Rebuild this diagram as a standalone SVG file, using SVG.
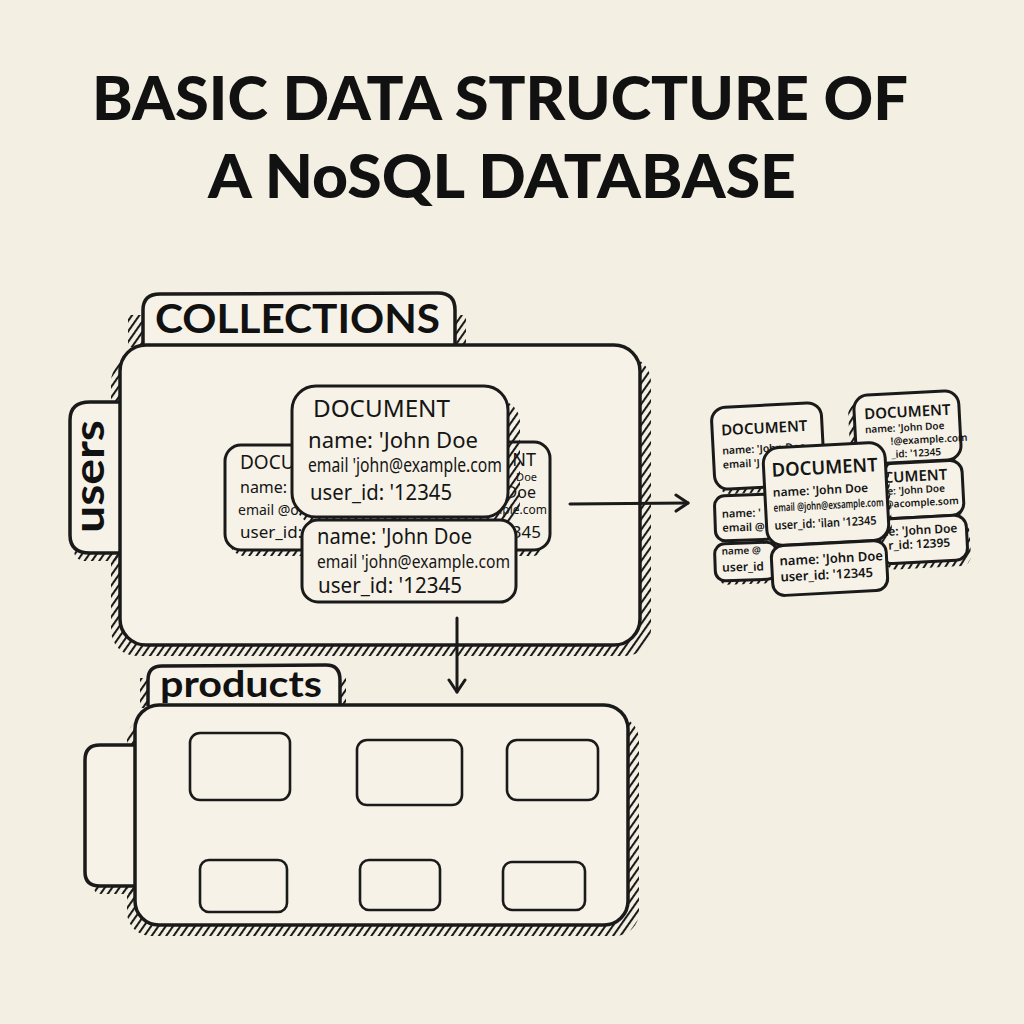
<svg xmlns="http://www.w3.org/2000/svg" width="1024" height="1024" viewBox="0 0 1024 1024">
<defs>
<pattern id="hatch" width="6" height="6" patternUnits="userSpaceOnUse" patternTransform="rotate(35)">
<line x1="1" y1="0" x2="1" y2="6" stroke="#1a1a1a" stroke-width="2.1"/>
</pattern>
<marker id="chev" viewBox="0 0 20 20" refX="17" refY="10" markerWidth="20" markerHeight="20" markerUnits="userSpaceOnUse" orient="auto">
<path d="M5,2 L17,10 L5,18" fill="none" stroke="#1a1a1a" stroke-width="3" stroke-linecap="round" stroke-linejoin="round"/>
</marker>
</defs>
<style>
.bg{fill:#f3efe2}
.box{fill:#f6f2e7;stroke:#1a1a1a;stroke-width:3.5;stroke-linejoin:round}
.doc{fill:#f6f2e7;stroke:#1a1a1a;stroke-width:3}
.inner{fill:none;stroke:#1a1a1a;stroke-width:2.6}
.sh{fill:url(#hatch)}
.title{font-family:Lato,"Liberation Sans",sans-serif;font-weight:900;fill:#111}
.lab{font-family:Lato,"Liberation Sans",sans-serif;font-weight:700;fill:#111}
.t{font-family:"Noto Sans","DejaVu Sans",sans-serif;fill:#151515}
.tb{font-family:"Noto Sans","DejaVu Sans",sans-serif;fill:#151515;font-weight:600}
.con{fill:none;stroke:#1a1a1a;stroke-width:3;stroke-linecap:round}
</style>
<rect class="bg" x="0" y="0" width="1024" height="1024"/>

<g id="title">
<text class="title" x="92" y="120" font-size="60" textLength="816" lengthAdjust="spacingAndGlyphs">BASIC DATA STRUCTURE OF</text>
<text class="title" x="208" y="198" font-size="60" textLength="588" lengthAdjust="spacingAndGlyphs">A NoSQL DATABASE</text>
</g>

<g id="collections-tab">
<rect class="sh" x="128" y="315" width="338" height="32"/>
<path class="box" d="M143,345 L143,310 Q143,294 160,294 L438,293 Q455,293 455,310 L455,345"/>
<text class="lab" x="155" y="333" font-size="40" textLength="285" lengthAdjust="spacingAndGlyphs">COLLECTIONS</text>
</g>

<g id="users-collection">
<rect class="sh" x="111" y="356" width="540" height="300" rx="26"/>
<rect class="sh" x="74" y="412" width="50" height="149" rx="10"/>
<path class="box" d="M123,402 L90,402 Q70,402 70,420 L70,535 Q70,553 90,553 L123,553"/>
<rect class="box" x="120" y="345" width="520" height="300" rx="26"/>
<text class="lab" transform="translate(104,533) rotate(-90)" font-size="42" textLength="113" lengthAdjust="spacingAndGlyphs">users</text>
</g>

<g id="doc-back-left">
<rect class="sh" x="229" y="452" width="170" height="104" rx="16"/>
<rect class="doc" x="225" y="445" width="180" height="105" rx="16"/>
<text class="t" x="240" y="469" font-size="19">DOCU</text>
<text class="t" x="240" y="493" font-size="16">name: '</text>
<text class="t" x="238" y="515" font-size="14">email @o</text>
<text class="t" x="240" y="538" font-size="17">user_id:</text>
</g>

<g id="doc-back-right">
<rect class="sh" x="400" y="450" width="148" height="106" rx="16"/>
<rect class="doc" x="395" y="442" width="155" height="108" rx="16"/>
<text class="t" x="536" y="466" font-size="18" text-anchor="end">NT</text>
<text class="t" x="537" y="481" font-size="11" text-anchor="end">Doe</text>
<text class="t" x="536" y="498" font-size="16" text-anchor="end">Doe</text>
<text class="t" x="547" y="514" font-size="12" text-anchor="end">ample.com</text>
<text class="t" x="541" y="538" font-size="17" text-anchor="end">345</text>
</g>

<g id="doc-front">
<rect class="sh" x="296" y="400" width="224" height="125" rx="22"/>
<rect class="doc" x="292" y="386" width="216" height="131" rx="24"/>
<text class="t" x="313" y="417" font-size="24" textLength="137" lengthAdjust="spacingAndGlyphs">DOCUMENT</text>
<text class="t" x="308" y="448" font-size="22" textLength="170" lengthAdjust="spacingAndGlyphs">name: 'John Doe</text>
<text class="t" x="308" y="472" font-size="19" textLength="194" lengthAdjust="spacingAndGlyphs">email 'john@example.com</text>
<text class="t" x="310" y="500" font-size="22" textLength="142" lengthAdjust="spacingAndGlyphs">user_id: '12345</text>
</g>

<g id="doc-lower">
<rect class="doc" x="302" y="520" width="214" height="82" rx="16"/>
<text class="t" x="317" y="544" font-size="21" textLength="155" lengthAdjust="spacingAndGlyphs">name: 'John Doe</text>
<text class="t" x="317" y="568" font-size="18" textLength="193" lengthAdjust="spacingAndGlyphs">email 'john@example.com</text>
<text class="t" x="318" y="593" font-size="21" textLength="144" lengthAdjust="spacingAndGlyphs">user_id: '12345</text>
</g>

<g id="products-tab">
<rect class="sh" x="140" y="678" width="206" height="30"/>
<path class="box" d="M148,706 L148,680 Q148,666 162,666 L326,665 Q340,665 340,680 L340,706"/>
<text class="lab" x="160" y="697" font-size="36" textLength="162" lengthAdjust="spacingAndGlyphs">products</text>
</g>

<g id="products-collection">
<rect class="sh" x="127" y="716" width="512" height="220" rx="24"/>
<rect class="sh" x="93" y="758" width="44" height="136" rx="8"/>
<path class="box" d="M137,745 L100,745 Q85,745 85,760 L85,872 Q85,886 100,886 L137,886"/>
<rect class="box" x="135" y="705" width="493" height="220" rx="24"/>
<rect class="inner" x="190" y="733" width="100" height="67" rx="10"/>
<rect class="inner" x="357" y="740" width="105" height="65" rx="10"/>
<rect class="inner" x="507" y="740" width="91" height="60" rx="10"/>
<rect class="inner" x="200" y="860" width="87" height="52" rx="9"/>
<rect class="inner" x="360" y="860" width="80" height="50" rx="9"/>
<rect class="inner" x="503" y="862" width="82" height="48" rx="9"/>
</g>

<g id="document-cluster">
<g id="doc-a" transform="rotate(-3 768 446)">
<rect class="sh" x="716" y="420" width="106" height="72" rx="12"/>
<rect class="doc" x="713" y="405" width="110" height="82" rx="14"/>
<text class="tb" x="722" y="433" font-size="15">DOCUMENT</text>
<text class="tb" x="722" y="452" font-size="10.5">name: 'John Doe</text>
<text class="tb" x="722" y="466" font-size="10.5">email 'J</text>
</g>
<g id="doc-b" transform="rotate(-3 907 428)">
<rect class="sh" x="849" y="400" width="108" height="68" rx="12"/>
<rect class="doc" x="855" y="393" width="105" height="69" rx="14"/>
<text class="tb" x="865" y="417" font-size="15">DOCUMENT</text>
<text class="tb" x="865" y="431" font-size="10">name: 'John Doe</text>
<text class="tb" x="890" y="444" font-size="10">!@example.com</text>
<text class="tb" x="890" y="457" font-size="10">_id: '12345</text>
</g>
<g id="doc-f" transform="rotate(-2 746 518)">
<rect class="doc" x="715" y="495" width="62" height="45" rx="10"/>
<text class="tb" x="722" y="517" font-size="11">name: '</text>
<text class="tb" x="722" y="531" font-size="11">email @</text>
</g>
<g id="doc-g" transform="rotate(-2 746 562)">
<rect class="sh" x="718" y="556" width="56" height="28" rx="8"/>
<rect class="doc" x="715" y="543" width="62" height="37" rx="10"/>
<text class="tb" x="722" y="554" font-size="10">name @</text>
<text class="tb" x="722" y="571" font-size="12">user_id</text>
</g>
<g id="doc-d" transform="rotate(-3 921 490)">
<rect class="sh" x="878" y="468" width="84" height="54" rx="10"/>
<rect class="doc" x="880" y="462" width="83" height="55" rx="12"/>
<text class="tb" x="948" y="481" font-size="15" text-anchor="end">OCUMENT</text>
<text class="tb" x="945" y="493" font-size="10" text-anchor="end">e: 'John Doe</text>
<text class="tb" x="958" y="506" font-size="10" text-anchor="end">il @acomple.som</text>
</g>
<g id="doc-e" transform="rotate(-3 923 540)">
<rect class="sh" x="884" y="524" width="86" height="44" rx="10"/>
<rect class="doc" x="880" y="517" width="87" height="45" rx="12"/>
<text class="tb" x="958" y="534" font-size="12" text-anchor="end">me: 'John Doe</text>
<text class="tb" x="950" y="548" font-size="12" text-anchor="end">r_id: 12395</text>
</g>
<g id="doc-c" transform="rotate(-3 826 494)">
<rect class="sh" x="768" y="455" width="122" height="92" rx="14"/>
<rect class="doc" x="765" y="445" width="122" height="98" rx="16"/>
<text class="tb" x="773" y="474" font-size="19" textLength="106" lengthAdjust="spacingAndGlyphs">DOCUMENT</text>
<text class="tb" x="773" y="494" font-size="12">name: 'John Doe</text>
<text class="tb" x="773" y="509" font-size="11" textLength="110" lengthAdjust="spacingAndGlyphs">email @john@exsample.com</text>
<text class="tb" x="773" y="527" font-size="12" textLength="102" lengthAdjust="spacingAndGlyphs">user_id: 'ilan '12345</text>
</g>
<g id="doc-h" transform="rotate(-3 830 568)">
<rect class="doc" x="772" y="543" width="115" height="50" rx="12"/>
<text class="tb" x="780" y="563" font-size="13">name: 'John Doe</text>
<text class="tb" x="780" y="579" font-size="13">user_id: '12345</text>
</g>
</g>

<g id="connectors">
<line class="con" x1="570" y1="504" x2="688" y2="503" marker-end="url(#chev)"/>
<line class="con" x1="457" y1="618" x2="457" y2="692" marker-end="url(#chev)"/>
</g>
</svg>
